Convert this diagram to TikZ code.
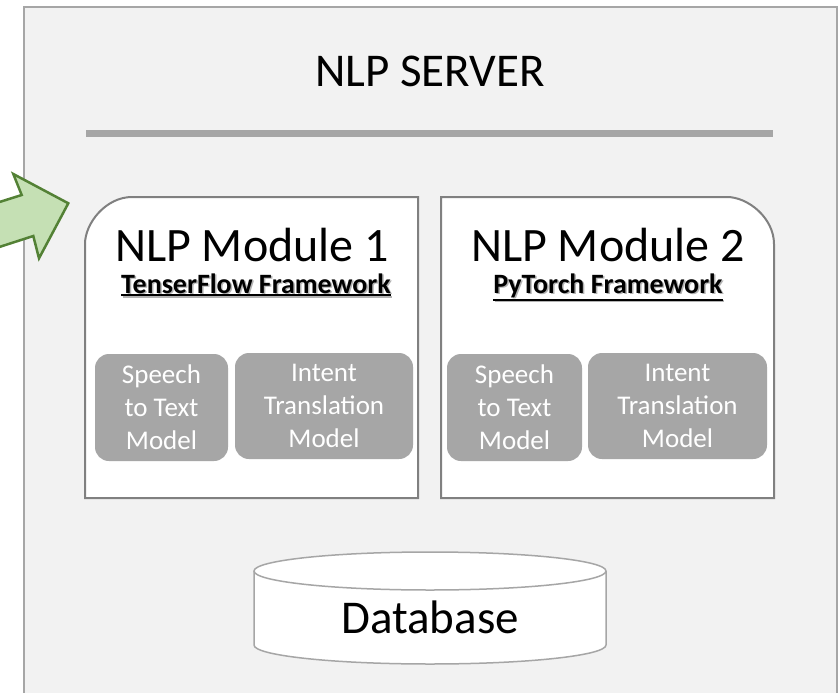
\documentclass[tikz,border=0pt]{standalone}
\usepackage{fontspec}
\setmainfont{Carlito}
\usetikzlibrary{positioning}

\definecolor{bggray}{HTML}{F2F2F2}
\definecolor{linegray}{HTML}{A6A6A6}
\definecolor{boxline}{HTML}{808080}
\definecolor{arrowfill}{HTML}{C5E0B4}
\definecolor{arrowline}{HTML}{538135}

% bold text with a thick underline and a soft grey shadow
\newcommand{\ulbold}[1]{\vtop{\hbox{#1}\kern1.2pt\hrule height 2pt}}
\newcommand{\framework}[1]{\rlap{\kern1.5pt\raisebox{-1.5pt}{\color{black!30}\ulbold{#1}}}\ulbold{#1}}

\tikzset{
  modtitle/.style={anchor=base, font=\fontsize{48}{56}\selectfont},
  fwtext/.style={anchor=base, font=\fontsize{28}{32}\selectfont\bfseries},
  modelbox/.style={fill=linegray, rounded corners=14pt, text=white, align=center,
    font=\fontsize{27}{33}\selectfont, inner sep=0pt},
  modbox/.style={draw=boxline, line width=2pt, fill=white}
}

\begin{document}
\begin{tikzpicture}[x=1pt, y=-1pt]
    \useasboundingbox (0,0) rectangle (838,693);

    % Server box and divider
    \draw[fill=bggray, draw=linegray, line width=2pt] (24,7) rectangle (837,710);
    \node[anchor=base, font=\fontsize{47}{56}\selectfont] (server) at (430,87) {NLP SERVER};
    \draw[linegray, line width=7pt] (86,133.5) -- (773,133.5);

    % Module 1: rounded top-left corner
    \def\rad{47}
    \draw[modbox] (418,498) -- (85,498) -- (85,197+\rad)
        .. controls (85,197+0.552*\rad) and (85+\rad-0.552*\rad,197) .. (85+\rad,197)
        -- (418,197) -- cycle;
    \node[modtitle] (title1) at (252,261) {NLP Module 1};
    \node[fwtext] (fw1) at (256,293) {\framework{TenserFlow Framework}};
    \node[modelbox, minimum width=133pt, minimum height=107pt] (stt1) at (161.5,407.5) {Speech\\to Text\\Model};
    \node[modelbox, minimum width=178pt, minimum height=106pt] (itm1) at (324,406) {Intent\\Translation\\Model};

    % Module 2: rounded top-right corner
    \draw[modbox] (441,498) -- (441,197) -- (774-\rad,197)
        .. controls (774-0.552*\rad,197) and (774,197+\rad-0.552*\rad) .. (774,197+\rad)
        -- (774,498) -- cycle;
    \node[modtitle] (title2) at (608,261) {NLP Module 2};
    \node[fwtext] (fw2) at (608,293) {\framework{PyTorch Framework}};
    \node[modelbox, minimum width=135pt, minimum height=107pt] (stt2) at (514.5,407.5) {Speech\\to Text\\Model};
    \node[modelbox, minimum width=179pt, minimum height=106pt] (itm2) at (677.5,406) {Intent\\Translation\\Model};

    % Database cylinder
    \draw[fill=white, draw=linegray, line width=1.5pt] (254,571) -- (254,645)
        arc[start angle=180, end angle=0, x radius=176, y radius=19] -- (606,571);
    \draw[fill=white, draw=linegray, line width=1.5pt] (430,571) ellipse[x radius=176, y radius=19];
    \node[anchor=base, font=\fontsize{47}{56}\selectfont] (db) at (430,633) {Database};

    % Incoming arrow
    \draw[fill=arrowfill, draw=arrowline, line width=2.5pt, line join=miter]
        (-10,205) -- (21.7,195) -- (13.3,174) -- (68.3,203.3) -- (39,258.3)
        -- (33.3,236) -- (-10,250) -- cycle;
\end{tikzpicture}
\end{document}
